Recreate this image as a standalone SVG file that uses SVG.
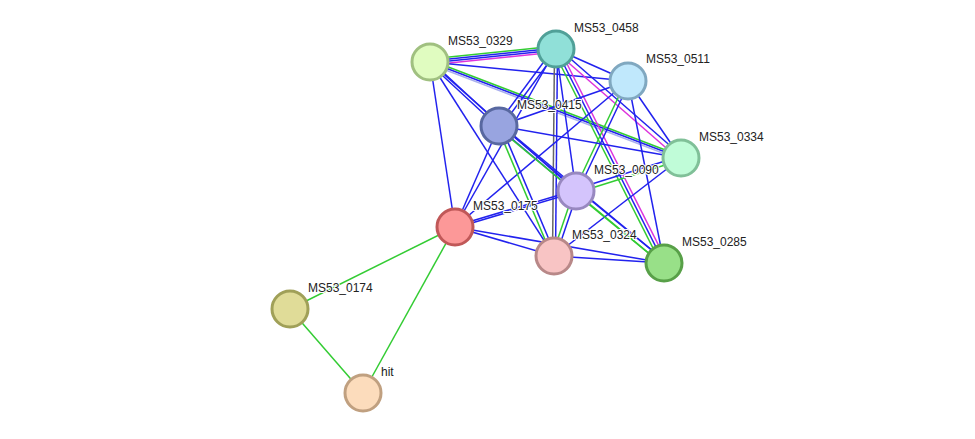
<svg xmlns="http://www.w3.org/2000/svg" width="975" height="439" viewBox="0 0 975 439">
<style>
line{stroke-width:1.5}
.b{stroke:#2222ee}.g{stroke:#33cc33}.m{stroke:#dd33dd}.l{stroke:#aab0ee}.k{stroke:#666}
circle{stroke-width:3}
text{font-family:"Liberation Sans",Arial,sans-serif;font-size:12px;fill:#222;paint-order:stroke;stroke:#fff;stroke-width:2px}
</style>
<rect width="975" height="439" fill="#fff"/>
<g id="edges">
<line class="g" x1="430" y1="59" x2="556" y2="46"/>
<line class="b" x1="430" y1="61" x2="556" y2="48"/>
<line class="b" x1="430" y1="63" x2="556" y2="50"/>
<line class="m" x1="430" y1="65" x2="556" y2="52"/>
<line class="b" x1="430" y1="62" x2="628" y2="81"/>
<line class="b" x1="429" y1="63" x2="498" y2="127"/>
<line class="b" x1="431" y1="61" x2="500" y2="125"/>
<line class="b" x1="430" y1="62" x2="576" y2="191"/>
<line class="g" x1="430" y1="60" x2="681" y2="156"/>
<line class="b" x1="430" y1="62" x2="681" y2="158"/>
<line class="l" x1="430" y1="64" x2="681" y2="160"/>
<line class="b" x1="430" y1="62" x2="455" y2="227"/>
<line class="b" x1="430" y1="62" x2="554" y2="256"/>
<line class="b" x1="556" y1="49" x2="628" y2="81"/>
<line class="b" x1="554" y1="48" x2="497" y2="125"/>
<line class="b" x1="558" y1="50" x2="501" y2="127"/>
<line class="b" x1="557" y1="47" x2="682" y2="156"/>
<line class="m" x1="555" y1="51" x2="680" y2="160"/>
<line class="b" x1="556" y1="49" x2="576" y2="191"/>
<line class="b" x1="556" y1="49" x2="455" y2="227"/>
<line class="k" x1="554.5" y1="49" x2="552.5" y2="256"/>
<line class="b" x1="557.5" y1="49" x2="555.5" y2="256"/>
<line class="g" x1="553" y1="50" x2="661" y2="264"/>
<line class="b" x1="556" y1="49" x2="664" y2="263"/>
<line class="m" x1="559" y1="48" x2="667" y2="262"/>
<line class="b" x1="628" y1="81" x2="499" y2="126"/>
<line class="b" x1="628" y1="81" x2="681" y2="158"/>
<line class="g" x1="626" y1="81" x2="574" y2="191"/>
<line class="b" x1="630" y1="81" x2="578" y2="191"/>
<line class="b" x1="628" y1="81" x2="455" y2="227"/>
<line class="b" x1="628" y1="81" x2="664" y2="263"/>
<line class="b" x1="499" y1="126" x2="681" y2="158"/>
<line class="b" x1="500" y1="125" x2="577" y2="190"/>
<line class="b" x1="498" y1="127" x2="575" y2="192"/>
<line class="b" x1="499" y1="126" x2="455" y2="227"/>
<line class="g" x1="497" y1="126" x2="552" y2="256"/>
<line class="b" x1="501" y1="126" x2="556" y2="256"/>
<line class="b" x1="500" y1="124" x2="665" y2="261"/>
<line class="g" x1="498" y1="128" x2="663" y2="265"/>
<line class="b" x1="681" y1="156" x2="576" y2="189"/>
<line class="g" x1="681" y1="160" x2="576" y2="193"/>
<line class="b" x1="681" y1="158" x2="554" y2="256"/>
<line class="b" x1="576" y1="190" x2="455" y2="226"/>
<line class="b" x1="576" y1="192" x2="455" y2="228"/>
<line class="g" x1="574" y1="191" x2="552" y2="256"/>
<line class="b" x1="578" y1="191" x2="556" y2="256"/>
<line class="b" x1="577" y1="189" x2="665" y2="261"/>
<line class="g" x1="575" y1="193" x2="663" y2="265"/>
<line class="b" x1="455" y1="227" x2="554" y2="256"/>
<line class="b" x1="455" y1="227" x2="664" y2="263"/>
<line class="b" x1="554" y1="256" x2="664" y2="263"/>
<line class="g" x1="455" y1="227" x2="290" y2="309"/>
<line class="g" x1="455" y1="227" x2="363" y2="393"/>
<line class="g" x1="290" y1="309" x2="363" y2="393"/>
</g>
<g id="n0329"><circle cx="430" cy="62" r="18" fill="#e0fcc0" stroke="#a0c080"/><text x="448" y="45">MS53_0329</text></g>
<g id="n0458"><circle cx="556" cy="49" r="18" fill="#90e0d8" stroke="#50a098"/><text x="574" y="32">MS53_0458</text></g>
<g id="n0511"><circle cx="628" cy="81" r="18" fill="#c0e8fc" stroke="#80a8c0"/><text x="646" y="63">MS53_0511</text></g>
<g id="n0415"><circle cx="499" cy="126" r="18" fill="#98a4e0" stroke="#5868a0"/><text x="517" y="109">MS53_0415</text></g>
<g id="n0334"><circle cx="681" cy="158" r="18" fill="#c0fcd8" stroke="#80c098"/><text x="699" y="141">MS53_0334</text></g>
<g id="n0090"><circle cx="576" cy="191" r="18" fill="#d4c4fc" stroke="#9888c0"/><text x="594" y="174">MS53_0090</text></g>
<g id="n0175"><circle cx="455" cy="227" r="18" fill="#fc9898" stroke="#c05858"/><text x="473" y="210">MS53_0175</text></g>
<g id="n0324"><circle cx="554" cy="256" r="18" fill="#f8c4c4" stroke="#b88888"/><text x="572" y="239">MS53_0324</text></g>
<g id="n0285"><circle cx="664" cy="263" r="18" fill="#98e088" stroke="#58a048"/><text x="682" y="246">MS53_0285</text></g>
<g id="n0174"><circle cx="290" cy="309" r="18" fill="#e0dc98" stroke="#a0a058"/><text x="308" y="292">MS53_0174</text></g>
<g id="nhit"><circle cx="363" cy="393" r="18" fill="#fcdcbc" stroke="#c0a080"/><text x="381" y="376">hit</text></g>
</svg>
